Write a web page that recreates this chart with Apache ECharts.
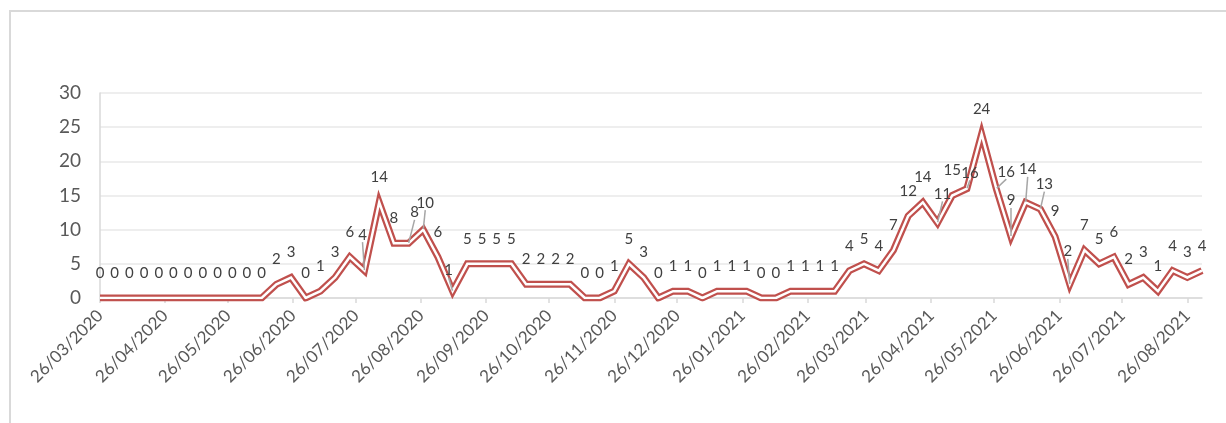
<!DOCTYPE html>
<html>
<head>
<meta charset="utf-8">
<title>Weekly chart</title>
<script src="https://cdn.jsdelivr.net/npm/echarts@6/dist/echarts.min.js"></script>
<style>
  html, body { margin: 0; padding: 0; background: #fff; }
  #chart { width: 1226px; height: 423px; }
</style>
</head>
<body>
<div id="chart"></div>
<script>
// tick labels on the date axis (one per month)
const tickLabels = [
  '26/03/2020', '26/04/2020', '26/05/2020', '26/06/2020', '26/07/2020', '26/08/2020',
  '26/09/2020', '26/10/2020', '26/11/2020', '26/12/2020', '26/01/2021', '26/02/2021',
  '26/03/2021', '26/04/2021', '26/05/2021', '26/06/2021', '26/07/2021', '26/08/2021'
];

// weekly values, first week = 26/03/2020
const weeklyValues = [
  0, 0, 0, 0, 0, 0, 0, 0, 0, 0, 0, 0,
  2, 3, 0, 1, 3, 6, 4, 14, 8, 8, 10, 6,
  1, 5, 5, 5, 5, 2, 2, 2, 2,
  0, 0, 1, 5, 3, 0, 1, 1, 0, 1, 1, 1, 0, 0, 1, 1, 1, 1,
  4, 5, 4, 7, 12, 14, 11, 15, 16, 24, 16, 9, 14, 13, 9,
  2, 7, 5, 6, 2, 3, 1, 4, 3, 4
];

// labels that are nudged (and get a leader line)
const labelShift = {
  18: [-2, -11], 21: [6, -6], 22: [2, -2], 24: [-4, 4],
  57: [5, -4], 59: [3, 9], 61: [10, 8], 62: [0, -11], 63: [2, -8], 64: [4, 0], 66: [-2, -8]
};

// one category per day, from the first week to the last
function fmt(d) {
  const dd = String(d.getUTCDate()).padStart(2, '0');
  const mm = String(d.getUTCMonth() + 1).padStart(2, '0');
  return dd + '/' + mm + '/' + d.getUTCFullYear();
}
const t0 = Date.UTC(2020, 2, 26);
const days = [];
for (let i = 0; i <= (weeklyValues.length - 1) * 7; i++) {
  days.push(fmt(new Date(t0 + i * 86400000)));
}

const red = '#C0504D';
const grey = '#595959';
const font = 'Lato';

const lineData = weeklyValues.map((v, i) => [i * 7, v]);
const labelData = weeklyValues.map((v, i) => {
  const item = { value: [i * 7, v] };
  if (labelShift[i]) item.labelLine = { show: true };
  return item;
});

const chart = echarts.init(document.getElementById('chart'));
chart.setOption({
  animation: false,
  graphic: [{
    type: 'rect',
    shape: { x: 10, y: 11, width: 1400, height: 600 },
    style: { fill: 'none', stroke: '#d9d9d9', lineWidth: 2 },
    silent: true
  }],
  grid: { left: 100, right: 24, top: 93, bottom: 125 },
  xAxis: {
    type: 'category',
    data: days,
    boundaryGap: false,
    axisLine: { lineStyle: { color: '#d9d9d9', width: 1.5 } },
    axisTick: {
      length: 5,
      interval: (idx, val) => tickLabels.includes(val),
      lineStyle: { color: '#d9d9d9', width: 1.5 }
    },
    axisLabel: {
      interval: (idx, val) => tickLabels.includes(val),
      rotate: 45,
      margin: 15,
      fontSize: 17,
      fontFamily: font,
      color: grey
    },
    splitLine: { show: false }
  },
  yAxis: {
    type: 'value',
    min: 0,
    max: 30,
    interval: 5,
    axisLine: { show: true, lineStyle: { color: '#d9d9d9', width: 1.5 } },
    axisTick: { show: false },
    axisLabel: { margin: 19, fontSize: 19, fontFamily: font, color: grey },
    splitLine: { lineStyle: { color: '#eeeeee', width: 2 } }
  },
  series: [
    {
      type: 'line',
      data: lineData,
      symbol: 'none',
      silent: true,
      clip: true,
      lineStyle: { color: red, width: 7, join: 'miter', miterLimit: 10 },
      z: 2
    },
    {
      type: 'line',
      data: labelData,
      symbol: 'circle',
      symbolSize: 1,
      silent: true,
      clip: true,
      itemStyle: { color: '#fff' },
      lineStyle: { color: '#fff', width: 2.5, join: 'miter', miterLimit: 10 },
      label: {
        show: true,
        position: 'top',
        distance: 17,
        fontSize: 15,
        fontFamily: font,
        color: '#404040'
      },
      labelLine: { show: false, lineStyle: { color: '#a6a6a6', width: 1.5 } },
      labelLayout: (params) => {
        const s = labelShift[params.dataIndex];
        return s ? { dx: s[0], dy: s[1] } : {};
      },
      z: 3
    }
  ]
});
</script>
</body>
</html>
